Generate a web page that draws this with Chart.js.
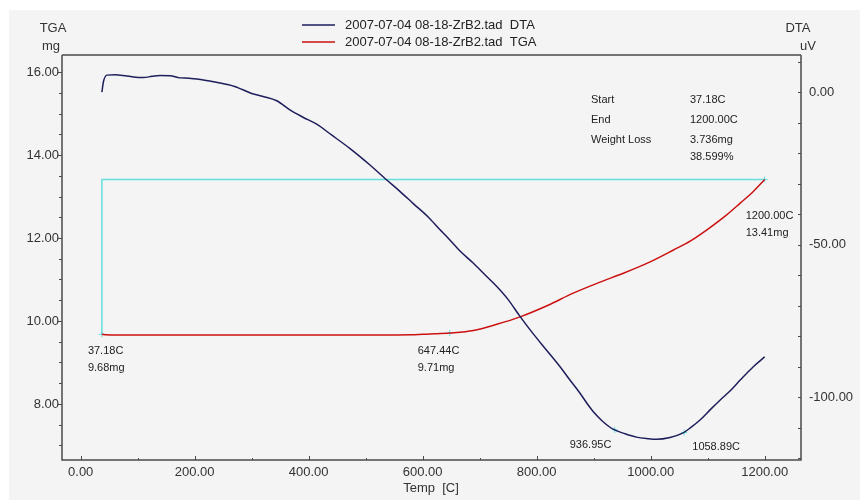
<!DOCTYPE html>
<html>
<head>
<meta charset="utf-8">
<script src="https://cdn.jsdelivr.net/npm/chart.js@4.4.1/dist/chart.umd.min.js"></script>
<style>
  html, body { margin: 0; padding: 0; background: #fff; }
</style>
</head>
<body>
<canvas id="tga" width="860" height="500"></canvas>
<script>
// DTA curve (uV, right axis)
var dtaTemp = [37.18, 40, 46, 60, 81, 110, 125, 139, 157, 174, 190, 215, 240, 270, 300, 320, 344, 367, 390, 414, 440, 472, 490, 507, 537, 560, 584, 610, 630, 642, 665, 689, 710, 730, 750, 771, 795, 817, 841, 858, 876, 890, 899, 915, 934, 955, 975, 995, 1010, 1034, 1056, 1070, 1087, 1105, 1122, 1140, 1157, 1180, 1200];
var dtaValues = [0, 3.5, 5.6, 5.7, 5.3, 4.8, 5.2, 5.5, 5.4, 4.7, 4.6, 4.0, 3.2, 1.9, -0.4, -1.4, -2.8, -5.8, -8.2, -10.5, -14, -18.4, -21.1, -23.8, -28.8, -32.5, -36.6, -41, -45, -47.3, -52, -56.1, -60, -63.7, -68, -73.6, -79.5, -84.5, -90, -94.3, -98.7, -102.5, -104.7, -107.8, -110.5, -112, -113.1, -113.6, -113.8, -113.2, -111.8, -110, -107.4, -104, -100.9, -97.8, -94.4, -90, -86.8];

// TGA curve (mg, left axis)
var tgaTemp = [37.18, 45, 80, 150, 300, 450, 580, 600, 620, 647.44, 689, 730, 771, 820, 864, 910, 952, 1000, 1040, 1070, 1098, 1130, 1157, 1180, 1200];
var tgaValues = [9.68, 9.67, 9.66, 9.66, 9.66, 9.66, 9.67, 9.68, 9.69, 9.71, 9.77, 9.92, 10.10, 10.38, 10.67, 10.93, 11.15, 11.43, 11.71, 11.93, 12.19, 12.52, 12.84, 13.12, 13.41];

// weight loss bracket
var lossTemp = [37.18, 37.18, 1200];
var lossValues = [9.68, 13.41, 13.41];

// marked points
var tgaMarkTemp = [37.18, 647.44, 1200];
var tgaMarkValues = [9.68, 9.71, 13.41];
var dtaMarkTemp = [936.95, 1058.89];
var dtaMarkValues = [-110.7, -111.6];

var xTicks = [0, 200, 400, 600, 800, 1000, 1200];
var yTicks = [8, 10, 12, 14, 16];
var y2Ticks = [-100, -50, 0];

var seriesNames = ['2007-07-04 08-18-ZrB2.tad  DTA', '2007-07-04 08-18-ZrB2.tad  TGA'];

var FONT = '"Liberation Sans", Arial, sans-serif';
var NAVY = '#1e1e5c';
var RED = '#cc1111';
var CYAN = '#66dede';

function pts(xs, ys) {
  return xs.map(function (x, i) { return { x: x, y: ys[i] }; });
}

var frame = {
  id: 'frame',
  beforeDraw: function (chart) {
    var ctx = chart.ctx;
    ctx.save();
    ctx.fillStyle = '#ffffff';
    ctx.fillRect(0, 0, 860, 500);
    ctx.fillStyle = '#f4f4f4';
    ctx.fillRect(9, 10, 851, 490);
    ctx.restore();
  },
  afterDraw: function (chart) {
    var ctx = chart.ctx, a = chart.chartArea;
    var sx = chart.scales.x, sy = chart.scales.y, s2 = chart.scales.y2;
    var i, p;
    ctx.save();
    ctx.strokeStyle = '#4a4a4a';
    ctx.lineWidth = 1.5;
    ctx.beginPath();
    ctx.moveTo(a.left, a.top); ctx.lineTo(a.right, a.top);
    ctx.moveTo(a.left, a.top); ctx.lineTo(a.left, a.bottom);
    ctx.lineTo(a.right, a.bottom); ctx.lineTo(a.right, a.top);
    ctx.stroke();

    ctx.lineWidth = 1;
    ctx.beginPath();
    // bottom ticks, inward
    for (i = 0; i <= 1200; i += 100) {
      p = Math.round(sx.getPixelForValue(i)) + 0.5;
      ctx.moveTo(p, a.bottom);
      ctx.lineTo(p, a.bottom - (i % 200 === 0 ? 4 : 2));
    }
    // left ticks, outward
    for (i = 7; i <= 16; i += 0.5) {
      p = Math.round(sy.getPixelForValue(i)) + 0.5;
      ctx.moveTo(a.left, p);
      ctx.lineTo(a.left - (i % 2 === 0 ? 5 : 3), p);
    }
    // right ticks, inward
    for (i = -120; i <= 10; i += 10) {
      p = Math.round(s2.getPixelForValue(i)) + 0.5;
      ctx.moveTo(a.right, p);
      ctx.lineTo(a.right - 3, p);
    }
    ctx.stroke();

    // legend
    var colors = [NAVY, RED];
    ctx.font = '13px ' + FONT;
    ctx.textBaseline = 'middle';
    ctx.textAlign = 'left';
    for (i = 0; i < 2; i++) {
      var ly = 25 + i * 17;
      ctx.strokeStyle = colors[i];
      ctx.lineWidth = 1.5;
      ctx.beginPath();
      ctx.moveTo(302, ly); ctx.lineTo(335, ly);
      ctx.stroke();
      ctx.fillStyle = '#222';
      ctx.fillText(seriesNames[i], 345, ly);
    }

    // axis titles
    ctx.font = '13px ' + FONT;
    ctx.fillStyle = '#333';
    ctx.textAlign = 'center';
    ctx.fillText('TGA', 53, 28);
    ctx.fillText('mg', 51, 46);
    ctx.fillText('DTA', 798, 28);
    ctx.fillText('uV', 808, 46);
    ctx.fillText('Temp  [C]', 431, 488);

    // point annotations
    ctx.font = '11px ' + FONT;
    ctx.fillStyle = '#222';
    ctx.textAlign = 'left';
    function note(scale, t, v, dx, dy, lines) {
      var px = sx.getPixelForValue(t), py = scale.getPixelForValue(v);
      lines.forEach(function (s, k) { ctx.fillText(s, px + dx, py + dy + k * 17); });
    }
    note(sy, 37.18, 9.68, -14, 17, ['37.18C', '9.68mg']);
    note(sy, 647.44, 9.71, -32, 18, ['647.44C', '9.71mg']);
    note(sy, 1200, 13.41, -19, 36, ['1200.00C', '13.41mg']);
    note(s2, 936.95, -110.7, -45, 15, ['936.95C']);
    note(s2, 1058.89, -111.6, 8, 14, ['1058.89C']);

    // summary box
    var rows = [['Start', '37.18C'], ['End', '1200.00C'], ['Weight Loss', '3.736mg'], ['', '38.599%']];
    var ry = [100, 120, 140, 157];
    rows.forEach(function (r, k) {
      ctx.fillText(r[0], 591, ry[k]);
      ctx.fillText(r[1], 690, ry[k]);
    });
    ctx.restore();
  }
};

new Chart(document.getElementById('tga'), {
  type: 'scatter',
  data: {
    datasets: [{
      label: seriesNames[0],
      data: pts(dtaTemp, dtaValues),
      yAxisID: 'y2',
      showLine: true,
      borderColor: NAVY,
      borderWidth: 1.5,
      pointRadius: 0,
      cubicInterpolationMode: 'monotone'
    }, {
      label: seriesNames[1],
      data: pts(tgaTemp, tgaValues),
      yAxisID: 'y',
      showLine: true,
      borderColor: RED,
      borderWidth: 1.5,
      pointRadius: 0,
      cubicInterpolationMode: 'monotone'
    }, {
      label: 'loss',
      data: pts(lossTemp, lossValues),
      yAxisID: 'y',
      showLine: true,
      borderColor: CYAN,
      borderWidth: 1.5,
      pointRadius: 0
    }, {
      label: 'tga marks',
      data: pts(tgaMarkTemp, tgaMarkValues),
      yAxisID: 'y',
      pointStyle: 'cross',
      pointRadius: 3,
      borderColor: CYAN,
      borderWidth: 1
    }, {
      label: 'dta marks',
      data: pts(dtaMarkTemp, dtaMarkValues),
      yAxisID: 'y2',
      pointStyle: 'cross',
      pointRadius: 3,
      borderColor: CYAN,
      borderWidth: 1
    }]
  },
  options: {
    responsive: false,
    animation: false,
    layout: { padding: { top: 55, left: 0, right: 0, bottom: 0 } },
    plugins: {
      legend: { display: false },
      tooltip: { enabled: false }
    },
    scales: {
      x: {
        type: 'linear',
        position: 'bottom',
        min: -32.8,
        max: 1263.7,
        grid: { display: false, drawTicks: false },
        border: { display: false },
        afterBuildTicks: function (s) { s.ticks = xTicks.map(function (v) { return { value: v }; }); },
        afterFit: function (s) { s.height = 40; },
        ticks: {
          padding: 5,
          color: '#333',
          font: { family: FONT, size: 13 },
          callback: function (v) { return v.toFixed(2); }
        }
      },
      y: {
        type: 'linear',
        position: 'left',
        min: 6.65,
        max: 16.41,
        grid: { display: false, drawTicks: false },
        border: { display: false },
        afterBuildTicks: function (s) { s.ticks = yTicks.map(function (v) { return { value: v }; }); },
        afterFit: function (s) { s.width = 62; },
        ticks: {
          padding: 3,
          color: '#333',
          font: { family: FONT, size: 13 },
          callback: function (v) { return v.toFixed(2); }
        }
      },
      y2: {
        type: 'linear',
        position: 'right',
        min: -120.6,
        max: 12.2,
        grid: { display: false, drawTicks: false },
        border: { display: false },
        afterBuildTicks: function (s) { s.ticks = y2Ticks.map(function (v) { return { value: v }; }); },
        afterFit: function (s) { s.width = 59; },
        ticks: {
          padding: 8,
          color: '#333',
          font: { family: FONT, size: 13 },
          callback: function (v) { return v.toFixed(2); }
        }
      }
    }
  },
  plugins: [frame]
});
</script>
</body>
</html>
